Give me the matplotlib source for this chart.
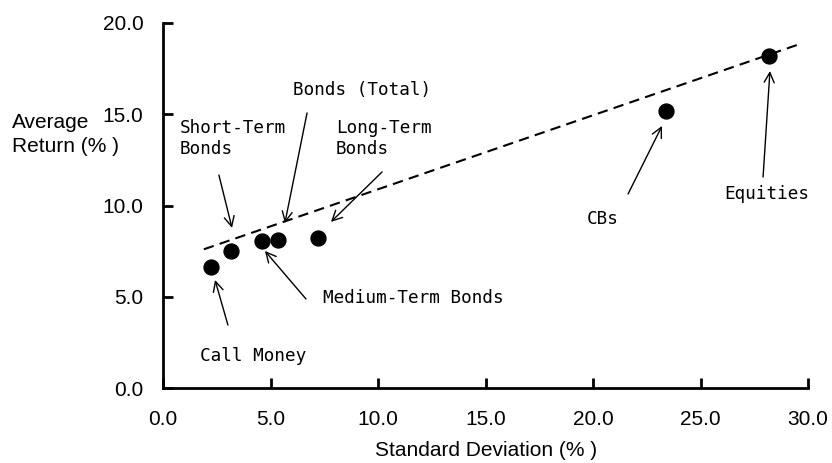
import matplotlib
matplotlib.use("Agg")
import matplotlib.pyplot as plt

# Data
labels = ["Call Money", "Short-Term\nBonds", "Medium-Term Bonds", "Bonds (Total)",
          "Long-Term\nBonds", "CBs", "Equities"]
std_dev = [2.23, 3.16, 4.6, 5.35, 7.2, 23.4, 28.2]
avg_return = [6.63, 7.5, 8.05, 8.1, 8.2, 15.2, 18.2]
trend_x = [1.9, 29.5]
trend_y = [7.6, 18.8]
xticks = [0, 5, 10, 15, 20, 25, 30]
yticks = [0, 5, 10, 15, 20]

# annotation layout: (text position, arrow tail, arrow head, ha)
ann = {
    "Call Money": ((1.72, 1.75), (3.02, 3.45), (2.42, 5.92), "left"),
    "Short-Term\nBonds": ((0.79, 13.67), (2.60, 11.67), (3.21, 8.77), "left"),
    "Medium-Term Bonds": ((7.44, 4.93), (6.65, 4.88), (4.74, 7.51), "left"),
    "Bonds (Total)": ((6.05, 16.33), (6.70, 15.07), (5.67, 9.04), "left"),
    "Long-Term\nBonds": ((8.05, 13.67), (10.19, 11.84), (7.81, 9.10), "left"),
    "CBs": ((20.47, 9.26), (21.63, 10.63), (23.21, 14.36), "center"),
    "Equities": ((26.09, 10.63), (27.91, 11.56), (28.23, 17.37), "left"),
}

fig = plt.figure(figsize=(8.32, 4.63), dpi=100)
ax = fig.add_axes([163 / 832, 1 - 388 / 463, 645 / 832, 365 / 463])

ax.plot(trend_x, trend_y, color="black", lw=1.5, ls=(0, (5, 3)))
ax.scatter(std_dev, avg_return, s=115, color="black", zorder=3)

ax.set_xlim(0, 30)
ax.set_ylim(0, 20)
ax.set_xticks(xticks)
ax.set_yticks(yticks)
ax.set_xticklabels([f"{v:.1f}" for v in xticks], fontsize=15, family="Liberation Sans")
ax.set_yticklabels([f"{v:.1f}" for v in yticks], fontsize=15, family="Liberation Sans")
ax.tick_params(axis="both", direction="in", length=7, width=2)
ax.tick_params(axis="y", pad=14)
ax.tick_params(axis="x", pad=16)
for s in ["top", "right"]:
    ax.spines[s].set_visible(False)
for s in ["left", "bottom"]:
    ax.spines[s].set_linewidth(2)

for lab in labels:
    (tx, ty), tail, head, ha = ann[lab]
    ax.text(tx, ty, lab, fontsize=12.7, family="DejaVu Sans Mono", ha=ha, va="center",
            linespacing=1.15)
    ax.annotate("", xy=head, xytext=tail,
                arrowprops=dict(arrowstyle="->", lw=1.0, color="black",
                                mutation_scale=18, shrinkA=0, shrinkB=0))

fig.text(12 / 832, 1 - 122 / 463, "Average", fontsize=15,
         family="Liberation Sans", ha="left", va="center")
fig.text(12 / 832, 1 - 147 / 463, "Return (% )", fontsize=15,
         family="Liberation Sans", ha="left", va="center")
fig.text(486 / 832, 1 - 450 / 463, "Standard Deviation (% )", fontsize=15,
         family="Liberation Sans", ha="center", va="center")

fig.savefig("out.png", dpi=100)
